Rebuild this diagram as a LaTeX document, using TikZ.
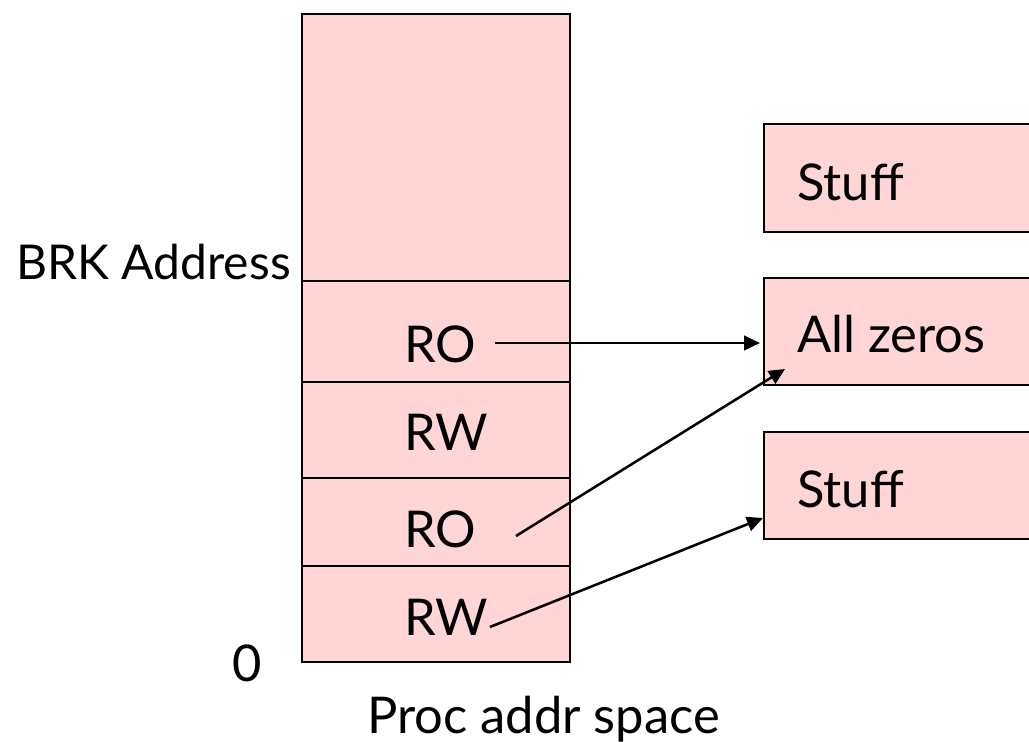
\documentclass[tikz,border=0pt]{standalone}
\usepackage{fontspec}
\setmainfont{Lato}
\usetikzlibrary{arrows.meta}
\definecolor{seg}{RGB}{255,213,213}
\begin{document}
\begin{tikzpicture}[x=0.75pt,y=-0.75pt,
  cell/.style={draw=black,line width=2pt,fill=seg},
  lbl/.style={inner sep=0pt,font=\fontsize{38}{44}\selectfont},
  ptr/.style={draw=black,line width=1.9pt,-{Triangle[length=12pt,width=11pt]}}]
\useasboundingbox (0,0) rectangle (1029,742);
% process address space column
\path[cell] (302,14) rectangle (570,281);
\path[cell] (302,281) rectangle (570,382);
\path[cell] (302,382) rectangle (570,478);
\path[cell] (302,478) rectangle (570,566);
\path[cell] (302,566) rectangle (570,662);
% backing objects on the right (cut by the page edge)
\path[cell] (1040,124) -- (764,124) -- (764,232) -- (1040,232);
\path[cell] (1040,278) -- (764,278) -- (764,385) -- (1040,385);
\path[cell] (1040,432) -- (764,432) -- (764,539) -- (1040,539);
% labels
\node[lbl,anchor=base east,font=\fontsize{36}{42}\selectfont] (brk) at (291,279) {BRK Address};
\node[lbl,anchor=base] (ro1) at (440,362) {RO};
\node[lbl,anchor=base] (rw1) at (446,450) {RW};
\node[lbl,anchor=base] (ro2) at (440,547) {RO};
\node[lbl,anchor=base] (rw2) at (446,635) {RW};
\node[lbl,anchor=base] (zero) at (247,681) {0};
\node[lbl,anchor=base west] (cap) at (367,733) {Proc addr space};
\node[lbl,anchor=base west] (s1) at (797,200) {Stuff};
\node[lbl,anchor=base west] (az) at (797,352) {All zeros};
\node[lbl,anchor=base west] (s2) at (797,507) {Stuff};
% pointer ends
\coordinate (a1) at (495,343);
\coordinate (b1) at (760,343);
\coordinate (a2) at (516,536);
\coordinate (b2) at (785,369);
\coordinate (a3) at (490,627);
\coordinate (b3) at (763,518);
\draw[ptr] (a1) -- (b1);
\draw[ptr] (a2) -- (b2);
\draw[ptr] (a3) -- (b3);
\end{tikzpicture}
\end{document}
